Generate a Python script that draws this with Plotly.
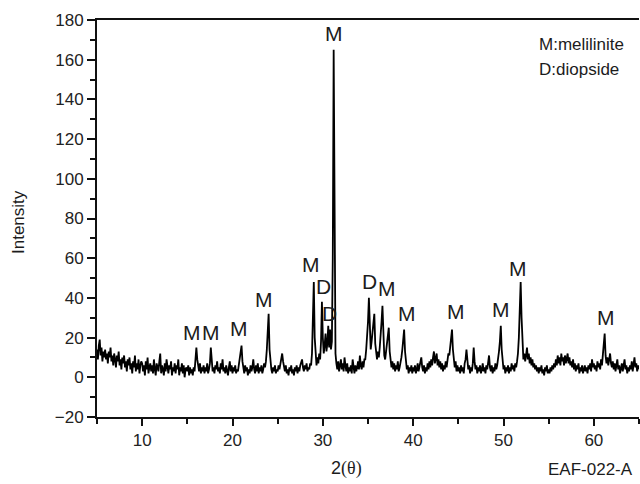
import numpy as np
import plotly.graph_objects as go

# 2-theta sampling (degrees) of the scan
two_theta_start = 5.0
two_theta_step = 0.1

# Intensity, one list per 5-degree segment (0.1 deg steps)
int_05_10 = [14, 9, 16, 19, 11, 15, 8, 13, 10, 14,
             9, 12, 7, 13, 10, 15, 8, 11, 6, 12,
             9, 5, 11, 8, 13, 6, 9, 4, 10, 7,
             11, 5, 8, 3, 9, 6, 10, 4, 7, 2,
             8, 5, 11, 3, 7, 4, 9, 2, 6, 8]
int_10_15 = [7, 3, 6, 1, 8, 4, 10, 2, 5, 7,
             3, 6, 2, 9, 4, 1, 7, 5, 3, 8,
             12, 2, 6, 4, 1, 7, 3, 9, 5, 2,
             6, 4, 8, 1, 5, 3, 7, 2, 6, 4,
             9, 1, 5, 3, 7, 2, 6, 0, 4, 5]
int_15_20 = [3, 6, 1, 5, 2, 4, 1, 5, 3, 8,
             15, 9, 6, 3, 7, 2, 5, 3, 6, 2,
             5, 3, 7, 2, 4, 7, 15, 6, 3, 5,
             2, 6, 4, 8, 3, 5, 2, 7, 4, 9,
             3, 5, 2, 6, 4, 1, 5, 8, 3, 6]
int_20_25 = [2, 5, 3, 6, 2, 4, 3, 6, 9, 12,
             16, 8, 5, 2, 6, 3, 5, 1, 4, 2,
             6, 3, 5, 9, 4, 2, 6, 3, 7, 2,
             5, 3, 6, 2, 4, 7, 5, 8, 14, 25,
             32, 14, 7, 4, 2, 5, 3, 6, 2, 4]
int_25_30 = [3, 6, 4, 7, 10, 12, 8, 5, 3, 6,
             2, 4, 1, 5, 3, 6, 2, 4, 1, 5,
             3, 6, 2, 5, 3, 6, 8, 9, 5, 3,
             6, 4, 7, 3, 5, 4, 7, 6, 12, 26,
             48, 20, 9, 6, 10, 7, 12, 9, 18, 38]
int_30_35 = [20, 12, 16, 22, 13, 17, 26, 15, 24, 14,
             18, 60, 165, 45, 12, 7, 4, 8, 3, 6,
             9, 4, 7, 3, 10, 6, 3, 7, 2, 5,
             3, 6, 2, 9, 4, 2, 6, 3, 5, 8,
             4, 11, 6, 4, 8, 5, 9, 9, 14, 20]
int_35_40 = [28, 40, 20, 14, 18, 22, 27, 32, 17, 11,
             9, 13, 10, 15, 20, 28, 36, 19, 11, 9,
             13, 17, 22, 25, 13, 8, 5, 8, 4, 7,
             3, 6, 4, 8, 3, 5, 7, 10, 14, 19,
             24, 13, 7, 4, 6, 2, 5, 3, 6, 2]
int_40_45 = [5, 3, 6, 2, 4, 7, 3, 6, 8, 10,
             5, 3, 6, 2, 5, 3, 7, 4, 8, 5,
             9, 6, 10, 13, 7, 11, 12, 6, 9, 5,
             8, 4, 7, 3, 6, 4, 8, 5, 9, 12,
             11, 15, 19, 24, 14, 9, 5, 8, 3, 6]
int_45_50 = [3, 5, 2, 6, 3, 5, 2, 7, 9, 14,
             8, 4, 6, 2, 5, 3, 7, 15, 8, 4,
             6, 2, 5, 3, 6, 2, 4, 7, 3, 5,
             2, 6, 4, 8, 11, 5, 3, 6, 2, 5,
             3, 7, 4, 6, 9, 13, 18, 26, 14, 7]
int_50_55 = [4, 6, 2, 5, 3, 6, 2, 5, 3, 7,
             4, 6, 3, 7, 5, 8, 12, 20, 34, 48,
             30, 14, 9, 12, 8, 11, 15, 9, 12, 7,
             10, 6, 9, 5, 7, 4, 6, 3, 5, 2,
             5, 3, 6, 2, 4, 1, 5, 3, 6, 2]
int_55_60 = [4, 2, 5, 3, 6, 4, 7, 5, 9, 6,
             11, 7, 10, 6, 12, 8, 10, 6, 11, 7,
             9, 12, 7, 10, 6, 8, 5, 9, 4, 7,
             3, 6, 4, 7, 2, 5, 3, 6, 2, 4,
             6, 3, 5, 2, 6, 4, 7, 3, 9, 5]
int_60_65 = [7, 4, 6, 3, 8, 5, 7, 4, 9, 6,
             12, 16, 22, 11, 7, 10, 6, 9, 12, 7,
             5, 8, 4, 7, 3, 6, 9, 4, 6, 2,
             5, 7, 3, 6, 9, 4, 6, 2, 5, 3,
             6, 4, 8, 3, 6, 10, 5, 7, 3, 6, 4]

# Peak labels: (text, 2theta, intensity position of the label)
label_text = ["M", "M", "M", "M", "M", "D", "D", "M", "D", "M", "M", "M", "M", "M", "M"]
label_x = [15.5, 17.6, 20.7, 23.5, 28.7, 30.05, 30.75, 31.2, 35.15, 37.05, 39.3, 44.7, 49.7, 51.6, 61.4]
label_y = [22.5, 22.5, 24.5, 39, 57, 45.5, 32, 173, 48.5, 44.5, 32, 33, 34, 55, 30]

legend_lines = ["M:melilinite", "D:diopside"]
x_ticks = [10, 20, 30, 40, 50, 60]
y_ticks = [-20, 0, 20, 40, 60, 80, 100, 120, 140, 160, 180]

intensity = (int_05_10 + int_10_15 + int_15_20 + int_20_25 + int_25_30 + int_30_35 +
             int_35_40 + int_40_45 + int_45_50 + int_50_55 + int_55_60 + int_60_65)
two_theta = np.round(two_theta_start + two_theta_step * np.arange(len(intensity)), 2)

FONT = "Liberation Sans, Arial, sans-serif"
TXT = "#1c1c1c"

fig = go.Figure()
fig.add_trace(go.Scatter(x=two_theta, y=intensity, mode="lines",
                         line=dict(color="#000000", width=1.8), hoverinfo="skip",
                         showlegend=False))

annotations = []
for t, x, y in zip(label_text, label_x, label_y):
    annotations.append(dict(x=x, y=y, xref="x", yref="y", text=t, showarrow=False,
                            font=dict(family=FONT, size=21, color=TXT),
                            xanchor="center", yanchor="middle"))

W, H = 640, 484
L, R, T, B = 97, 1, 20, 67
pw, ph = W - L - R, H - T - B


def px(xp):
    return (xp - L) / pw


def py(yp):
    return (H - B - yp) / ph


annotations.append(dict(x=px(537), y=py(45), xref="paper", yref="paper", text=legend_lines[0],
                        showarrow=False, xanchor="left", yanchor="middle",
                        font=dict(family=FONT, size=17, color=TXT)))
annotations.append(dict(x=px(537), y=py(70), xref="paper", yref="paper", text=legend_lines[1],
                        showarrow=False, xanchor="left", yanchor="middle",
                        font=dict(family=FONT, size=17, color=TXT)))
annotations.append(dict(x=px(19), y=py(222), xref="paper", yref="paper", text="Intensity",
                        showarrow=False, textangle=-90, xanchor="center", yanchor="middle",
                        font=dict(family=FONT, size=17, color=TXT)))
annotations.append(dict(x=px(346), y=py(468), xref="paper", yref="paper",
                        text="2<span style='font-family:Liberation Serif, Times New Roman, serif'>(θ)</span>",
                        showarrow=False, xanchor="center", yanchor="middle",
                        font=dict(family=FONT, size=18, color=TXT)))
annotations.append(dict(x=px(590), y=py(469), xref="paper", yref="paper", text="EAF-022-A",
                        showarrow=False, xanchor="center", yanchor="middle",
                        font=dict(family=FONT, size=17, color=TXT)))

fig.update_layout(
    width=W, height=H,
    margin=dict(l=L, r=R, t=T, b=B, pad=0),
    paper_bgcolor="white", plot_bgcolor="white",
    annotations=annotations,
    xaxis=dict(range=[5, 65], tickvals=x_ticks, ticks="outside", ticklen=7, tickwidth=2,
               tickcolor="#111", showline=True, linewidth=2, linecolor="#111", mirror=True,
               showgrid=False, zeroline=False, automargin=False,
               tickfont=dict(family=FONT, size=17, color="#222"),
               minor=dict(tickvals=[5, 15, 25, 35, 45, 55, 65], ticks="outside", ticklen=5,
                          tickwidth=2, tickcolor="#111")),
    yaxis=dict(range=[-20, 180], tickvals=y_ticks, ticks="outside", ticklen=8, tickwidth=2,
               tickcolor="#111", showline=True, linewidth=2, linecolor="#111", mirror=False,
               showgrid=False, zeroline=False, automargin=False,
               tickfont=dict(family=FONT, size=17, color="#222"),
               minor=dict(tickvals=[-10, 10, 30, 50, 70, 90, 110, 130, 150, 170], ticks="outside",
                          ticklen=5, tickwidth=2, tickcolor="#111")),
)

fig.write_html("out.html", config={"displayModeBar": False},
               post_script="document.body.style.margin='0';document.body.style.padding='0';")
